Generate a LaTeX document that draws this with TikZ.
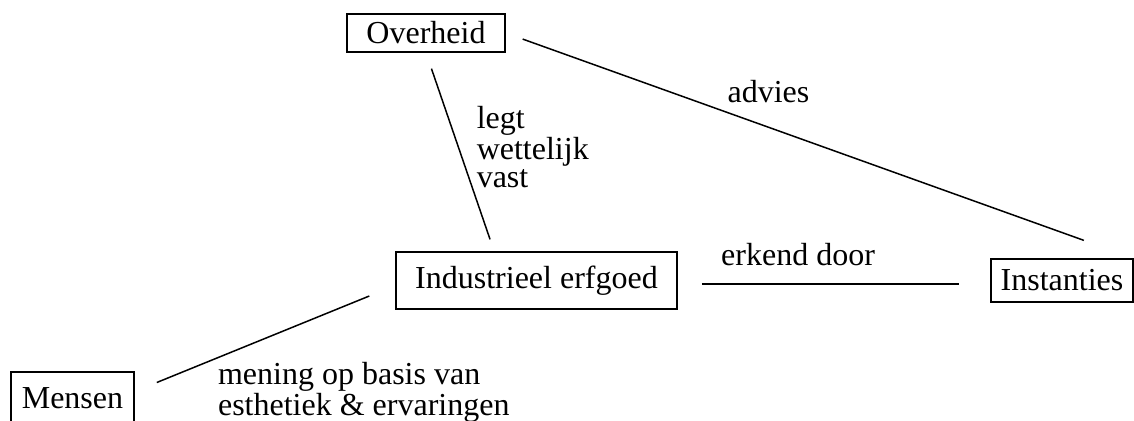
\documentclass[tikz,border=0pt]{standalone}
\usepackage{fontspec}
\setmainfont{Liberation Serif}
\usetikzlibrary{calc}
\tikzset{box/.style={rectangle, draw, inner sep=0pt, font=\fontsize{16}{14}\selectfont},
  lbl/.style={inner sep=0pt, align=left, font=\fontsize{16}{14}\selectfont}}

\begin{document}
\begin{tikzpicture}[x=0.5pt, y=-0.5pt, line width=0.75pt]
        \useasboundingbox (0,0) rectangle (1134,420);
        \node[box, minimum width=79pt, minimum height=19pt] (overheid) at (426,33) {Overheid};
        \node[box, minimum width=140.5pt, minimum height=28.5pt] (erfgoed) at (536.5,280.5) {Industrieel erfgoed};
        \node[box, minimum width=71pt, minimum height=21.5pt] (instanties) at (1062,280.5) {Instanties};
        \node[box, minimum width=61.5pt, minimum height=26pt] (mensen) at (72.5,398) {Mensen};
        \draw[shorten <=8.4pt, shorten >=6.3pt] (overheid.south) -- ($(erfgoed.north west)!0.35!(erfgoed.north east)$)
            node[lbl, pos=0.25, anchor=north west, xshift=16.5pt, yshift=-1.5pt] (wettelijk) {legt\\wettelijk\\vast};
        \draw[shorten <=9pt, shorten >=26.5pt] (overheid.east) -- (instanties.north east)
            node[lbl, pos=0.352, anchor=base west, yshift=4.8pt] (advies) {advies};
        \draw[shorten <=12pt, shorten >=15.5pt] ($(erfgoed.east)+(0,3.5)$) -- ($(instanties.west)+(0,3.5)$)
            node[lbl, pos=0.385, anchor=base, yshift=9.5pt] (erkend) {erkend door};
        \draw[shorten <=11.9pt, shorten >=14pt] (mensen.6.5) -- (erfgoed.182.6)
            node[lbl, pos=0.317, anchor=north west, yshift=-2pt] (mening) {mening op basis van\\esthetiek \& ervaringen};
    \end{tikzpicture}
\end{document}
